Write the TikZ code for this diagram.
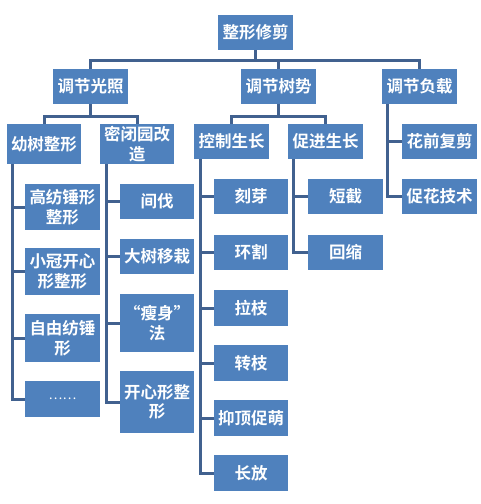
\documentclass[tikz,border=0pt]{standalone}
\usepackage{fontspec}
\setmainfont{Noto Sans CJK SC}[BoldFont={* Bold}]
\usepackage{tikz}
\usetikzlibrary{positioning, calc}
\definecolor{cBox}{RGB}{79,129,189}
\definecolor{cLine}{RGB}{65,97,143}
\tikzset{
	item/.style ={rectangle, fill=cBox, text=white, minimum width=75pt, minimum height=35pt, inner sep=1pt, align=center, font=\fontsize{16.5}{19.5}\selectfont\bfseries},
	link/.style ={draw=cLine, line width=3pt},
}

\begin{document}
\begin{tikzpicture}[x=1pt, y=-1pt]
	\useasboundingbox (0,0) rectangle (481,504);
	% top levels
	\node[item] (root) at (255.5,32.5) {整形修剪};
	\node[item] (guang) at (90.5,86.5) {调节光照};
	\node[item] (shushi) at (278.5,86.5) {调节树势};
	\node[item] (fuzai) at (419.5,86.5) {调节负载};
	\node[item, minimum width=74pt, minimum height=40pt] (youshu) at (44,144) {幼树整形};
	\node[item, minimum width=74pt, minimum height=40pt] (mibi) at (137,144) {密闭园改\\造};
	\node[item] (kongzhi) at (231.5,141.5) {控制生长};
	\node[item] (cujin) at (325.5,141.5) {促进生长};
	\node[item] (huaqian) at (439.5,141.5) {花前复剪};
	\node[item] (cuhua) at (439.5,196.5) {促花技术};
	% youshu
	\node[item, minimum height=46pt] (gaofang) at (62.5,207) {高纺锤形\\整形};
	\node[item, minimum height=47pt] (xiaoguan) at (62.5,271.5) {小冠开心\\形整形};
	\node[item, minimum height=48pt] (ziyou) at (62.5,338) {自由纺锤\\形};
	\node[item, minimum height=36pt] (dots) at (62.5,399) {\mdseries\fontsize{13}{15}\selectfont ……};
	% mibi
	\node[item, minimum width=74pt] (jianfa) at (157,201.5) {间伐};
	\node[item, minimum width=74pt] (dashu) at (157,256.5) {大树移栽};
	\node[item, minimum width=74pt, minimum height=58pt] (shoushen) at (157,323) {“瘦身”\\法};
	\node[item, minimum width=74pt, minimum height=62pt] (kaixin) at (157,402) {开心形整\\形};
	% kongzhi
	\node[item, minimum width=74pt] (keya) at (251,196.5) {刻芽};
	\node[item, minimum width=74pt] (huange) at (251,252) {环割};
	\node[item, minimum width=74pt, minimum height=36pt] (lazhi) at (251,308) {拉枝};
	\node[item, minimum width=74pt, minimum height=36pt] (zhuanzhi) at (251,363) {转枝};
	\node[item, minimum width=74pt, minimum height=36pt] (yiding) at (251,418) {抑顶促萌};
	\node[item, minimum width=74pt, minimum height=36pt] (changfang) at (251,473) {长放};
	% cujin
	\node[item] (duanjie) at (345.5,196.5) {短截};
	\node[item] (huisuo) at (345.5,252) {回缩};
	% connectors
	\foreach \kid in {guang, shushi, fuzai}
		\draw[link] (root.south) -- ++(0,10.5) -| (\kid.north);
	\foreach \kid in {youshu, mibi}
		\draw[link] (guang.south) -- ++(0,12) -| (\kid.north);
	\foreach \kid in {kongzhi, cujin}
		\draw[link] (shushi.south) -- ++(0,12) -| (\kid.north);
	\foreach \kid in {gaofang, xiaoguan, ziyou, dots}
		\draw[link] ([xshift=6pt]youshu.south west) |- (\kid.west);
	\foreach \kid in {jianfa, dashu, shoushen, kaixin}
		\draw[link] ([xshift=7pt]mibi.south west) |- (\kid.west);
	\foreach \kid in {keya, huange, lazhi, zhuanzhi, yiding, changfang}
		\draw[link] ([xshift=7pt]kongzhi.south west) |- (\kid.west);
	\foreach \kid in {duanjie, huisuo}
		\draw[link] ([xshift=6pt]cujin.south west) |- (\kid.west);
	\foreach \kid in {huaqian, cuhua}
		\draw[link] ([xshift=6pt]fuzai.south west) |- (\kid.west);
\end{tikzpicture}
\end{document}
